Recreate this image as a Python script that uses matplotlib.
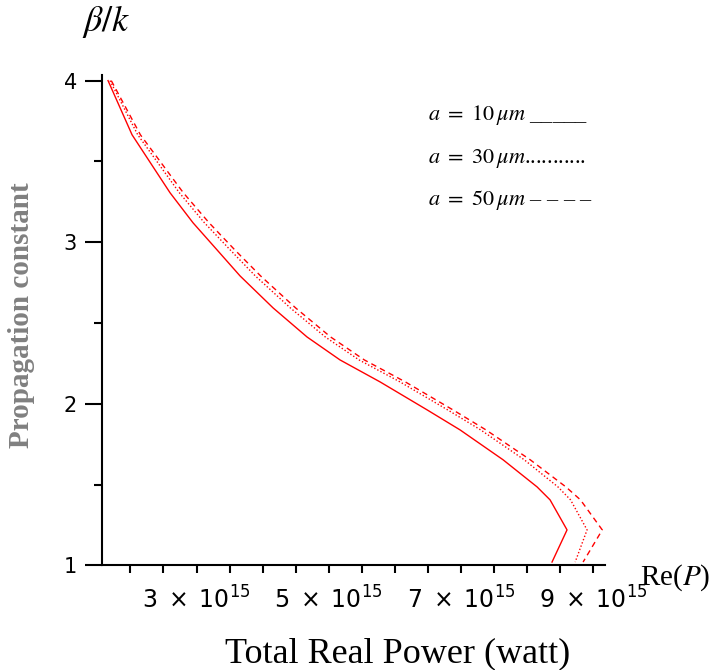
import numpy as np
import matplotlib.pyplot as plt
from matplotlib.ticker import FixedLocator, NullFormatter

plt.rcParams['mathtext.fontset'] = 'dejavusans'

# propagation constant beta/k (shared by all three curves)
beta_k = [4.0, 3.665, 3.306, 3.12, 2.952, 2.791, 2.593, 2.413, 2.271,
          2.135, 1.962, 1.838, 1.653, 1.485, 1.405, 1.219, 1.02]

# total real power, in units of 1e15 W
power_10um = [1.661, 2.024, 2.599, 2.947, 3.311, 3.659, 4.159, 4.673, 5.172,
              5.778, 6.489, 6.988, 7.639, 8.154, 8.350, 8.607, 8.380]
power_30um = [1.69, 2.11, 2.74, 3.12, 3.51, 3.89, 4.42, 4.95, 5.46,
              6.08, 6.80, 7.30, 7.96, 8.47, 8.66, 8.91, 8.73]
power_50um = [1.71, 2.15, 2.80, 3.19, 3.58, 3.97, 4.50, 5.03, 5.54,
              6.16, 6.88, 7.38, 8.05, 8.59, 8.81, 9.14, 8.85]

x_ticks = np.arange(2.0, 9.01, 0.5)
x_labels = {3: r'$3\;\times\;10^{15}$', 5: r'$5\;\times\;10^{15}$',
            7: r'$7\;\times\;10^{15}$', 9: r'$9\;\times\;10^{15}$'}
y_ticks = [1, 2, 3, 4]

fig = plt.figure(figsize=(7.15, 6.70), dpi=100)
ax = fig.add_axes([0.1427, 0.1563, 0.7035, 0.7318])

ax.plot(power_10um, beta_k, color='red', lw=1.0)
ax.plot(power_30um, beta_k, color='red', lw=1.0, linestyle=(0, (1, 1.5)))
ax.plot(power_50um, beta_k, color='red', lw=1.0, linestyle=(0, (4, 3)))

ax.set_xlim(1.57, 9.182)
ax.set_ylim(1.0, 4.035)

for side in ['top', 'right']:
    ax.spines[side].set_visible(False)
for side in ['left', 'bottom']:
    ax.spines[side].set_linewidth(1.5)

ax.set_xticks(x_ticks)
ax.set_xticklabels([x_labels.get(int(t), '') if t == int(t) else '' for t in x_ticks],
                   fontsize=17, family='DejaVu Sans')
ax.tick_params(axis='x', direction='out', length=6, width=1.5, pad=9)

ax.set_yticks(y_ticks)
ax.set_yticklabels([str(t) for t in y_ticks], fontsize=15, family='DejaVu Sans')
ax.yaxis.set_minor_locator(FixedLocator([1.5, 2.5, 3.5]))
ax.yaxis.set_minor_formatter(NullFormatter())
ax.tick_params(axis='y', which='major', direction='out', length=12, width=1.5, pad=6)
ax.tick_params(axis='y', which='minor', direction='out', length=6, width=1.5)

# axis labels placed like the original Maple export
fig.text(82 / 715, 1 - 22 / 670, r'$\beta/k$', fontsize=26, ha='left', va='center',
         math_fontfamily='stix')
fig.text(640 / 715, 1 - 578 / 670, r'Re($P$)', fontsize=21, ha='left', va='center',
         family='Liberation Serif', math_fontfamily='stix')
fig.text(398 / 715, 1 - 654 / 670, 'Total Real Power (watt)', fontsize=26,
         ha='center', va='center', family='Liberation Serif')
fig.text(22 / 715, 1 - 315 / 670, 'Propagation constant', fontsize=21, rotation=90,
         ha='center', va='center', family='Liberation Serif', weight='bold',
         color='#808080')

# hand-made legend
legend_rows = [r'$a\ =\ 10\,\mu m$ _____', r'$a\ =\ 30\,\mu m$...........',
               r'$a\ =\ 50\,\mu m$ – – – –']
for row, text in zip([115, 158, 200], legend_rows):
    fig.text(428 / 715, 1 - row / 670, text, fontsize=16, ha='left', va='center',
             family='Liberation Serif', math_fontfamily='stix')

fig.savefig('out.png', dpi=100)
